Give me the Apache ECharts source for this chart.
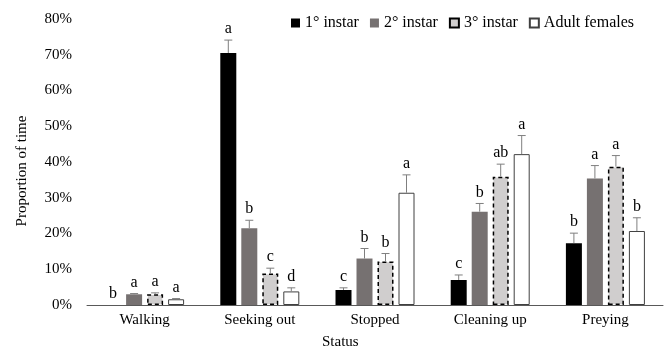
<!DOCTYPE html>
<html><head><meta charset="utf-8">
<script src="https://cdn.jsdelivr.net/npm/echarts@6/dist/echarts.min.js"></script>
<style>html,body{margin:0;padding:0;background:#fff}#c{width:668px;height:352px}</style>
</head><body><div id="c"></div>
<script>
const categories = ['Walking', 'Seeking out', 'Stopped', 'Cleaning up', 'Preying'];
const seriesNames = ['1° instar', '2° instar', '3° instar', 'Adult females'];
const inst1 = [0, 70.5, 4.2, 7.0, 17.3];
const inst2 = [3.0, 21.5, 13.0, 26.1, 35.4];
const inst3 = [3.0, 8.8, 12.2, 35.9, 38.7];
const adult = [1.6, 3.8, 31.4, 42.2, 20.7];
const err1 = [0, 3.6, 0.6, 1.4, 2.8];
const err2 = [0.2, 2.2, 2.8, 2.3, 3.6];
const err3 = [0.4, 1.5, 2.2, 3.5, 3.1];
const errA = [0.2, 1.0, 5.0, 5.2, 3.7];
const letters1 = ['b', 'a', 'c', 'c', 'b'];
const letters2 = ['a', 'b', 'b', 'b', 'a'];
const letters3 = ['a', 'c', 'b', 'ab', 'a'];
const lettersA = ['a', 'd', 'a', 'a', 'b'];
const yTicks = [0, 10, 20, 30, 40, 50, 60, 70, 80];

const values = [inst1, inst2, inst3, adult];
const errs = [err1, err2, err3, errA];
const letters = [letters1, letters2, letters3, lettersA];
const FONT = 'Liberation Serif';
const BAR_W = 16, GAP = 5;
const styles = [
  {color: '#000000', borderWidth: 0},
  {color: '#767171', borderWidth: 0},
  {color: '#d0cece', borderColor: '#000000', borderWidth: 1.5, borderType: [4, 3]},
  {color: '#ffffff', borderColor: '#404040', borderWidth: 1}
];

const series = [];
values.forEach((v, i) => {
  series.push({
    name: seriesNames[i], type: 'bar', data: v,
    barWidth: BAR_W, barGap: (GAP / BAR_W * 100) + '%',
    itemStyle: styles[i], z: 2
  });
});
values.forEach((v, i) => {
  const offset = (i - 1.5) * (BAR_W + GAP);
  series.push({
    name: 'err' + i, type: 'custom', z: 5,
    data: v.map((val, k) => [k, val, errs[i][k]]),
    renderItem: function (params, api) {
      const k = api.value(0), val = api.value(1), e = api.value(2);
      const b = api.coord([k, val]);
      const t = api.coord([k, val + e]);
      const cx = b[0] + offset;
      const children = [];
      if (e > 0) {
        children.push({type: 'line', shape: {x1: cx, y1: b[1], x2: cx, y2: t[1]}, style: {stroke: '#7f7f7f', lineWidth: 1}});
        children.push({type: 'line', shape: {x1: cx - 4, y1: t[1], x2: cx + 4, y2: t[1]}, style: {stroke: '#7f7f7f', lineWidth: 1}});
      }
      children.push({type: 'text', x: cx, y: t[1] - 3, style: {text: letters[i][params.dataIndex], fill: '#000', font: '16px "' + FONT + '"', align: 'center', verticalAlign: 'bottom'}});
      return {type: 'group', children: children};
    }
  });
});

const chart = echarts.init(document.getElementById('c'));
chart.setOption({
  animation: false,
  textStyle: {fontFamily: FONT},
  grid: {left: 87, right: 5, top: 19, bottom: 47, containLabel: false},
  legend: {
    data: seriesNames, left: 286, top: 10, itemWidth: 9, itemHeight: 9, itemGap: 11,
    icon: 'rect',
    textStyle: {fontFamily: FONT, fontSize: 16, color: '#000'}
  },
  xAxis: {
    type: 'category', data: categories,
    axisLine: {lineStyle: {color: '#595959', width: 1}},
    axisTick: {show: false},
    axisLabel: {fontFamily: FONT, fontSize: 15, color: '#000', margin: 8}
  },
  yAxis: {
    type: 'value', min: yTicks[0], max: yTicks[yTicks.length - 1], interval: 10,
    name: 'Proportion of time', nameLocation: 'middle', nameGap: 57,
    nameTextStyle: {fontFamily: FONT, fontSize: 15, color: '#000', padding: [0, 18, 0, 0]},
    axisLine: {show: false}, axisTick: {show: false}, splitLine: {show: false},
    axisLabel: {fontFamily: FONT, fontSize: 15, color: '#000', margin: 15, formatter: '{value}%'}
  },
  graphic: [{type: 'text', left: 322, top: 335, style: {text: 'Status', font: '15px "' + FONT + '"', fill: '#000'}}],
  series: series
});
</script></body></html>
